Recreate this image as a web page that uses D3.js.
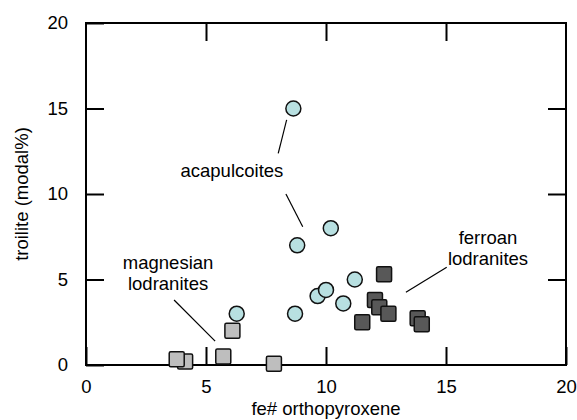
<!DOCTYPE html>
<html>
<head>
<meta charset="utf-8">
<script src="https://cdn.jsdelivr.net/npm/d3@7"></script>
<style>
  body { margin: 0; background: #fff; }
  svg text { font-family: "Liberation Sans", Arial, Helvetica, sans-serif; fill: #000; }
</style>
</head>
<body>
<div id="chart"></div>
<script>
// acapulcoites (circles)
const acapulcoiteFe = [8.64, 8.80, 10.2, 6.28, 8.71, 9.65, 10.0, 10.72, 11.2];
const acapulcoiteTroilite = [15.0, 7.0, 8.0, 3.0, 3.0, 4.03, 4.39, 3.6, 5.0];

// magnesian lodranites (light squares)
const magnesianFe = [6.1, 5.72, 4.13, 3.78, 7.83];
const magnesianTroilite = [2.0, 0.49, 0.2, 0.33, 0.08];

// ferroan lodranites (dark squares)
const ferroanFe = [12.42, 12.04, 12.22, 12.6, 11.51, 13.82, 13.99];
const ferroanTroilite = [5.3, 3.8, 3.37, 3.0, 2.5, 2.73, 2.38];

const xTicks = [0, 5, 10, 15, 20];
const yTicks = [0, 5, 10, 15, 20];

// group labels with leader lines, in data units
const labels = [
  { lines: ['acapulcoites'], x: 6.08, y: 11.35,
    leaders: [[[8.36, 14.33], [8.01, 12.38]], [[8.33, 10.0], [9.03, 8.09]]] },
  { lines: ['magnesian', 'lodranites'], x: 3.42, y: 5.4,
    leaders: [[[3.67, 3.8], [5.38, 1.4]]] },
  { lines: ['ferroan', 'lodranites'], x: 16.75, y: 6.85,
    leaders: [[[15.03, 5.71], [13.33, 4.25]]] }
];

const width = 577, height = 420;
const margin = { top: 23, right: 11, bottom: 55, left: 86 };
const w = width - margin.left - margin.right,
  h = height - margin.top - margin.bottom;
const fs = 18.5;

const svg = d3.select('#chart').append('svg')
  .attr('width', width)
  .attr('height', height);

const g = svg.append('g')
  .attr('transform', 'translate(' + margin.left + ',' + margin.top + ')');

const x = d3.scaleLinear().domain([0, 20]).range([0, w]);
const y = d3.scaleLinear().domain([0, 20]).range([h, 0]);

const tickLen = 18;

// inward ticks on all four sides
g.append('g').attr('transform', 'translate(0,' + h + ')')
  .call(d3.axisBottom(x).tickValues(xTicks).tickSize(-tickLen).tickPadding(15).tickSizeOuter(0));
g.append('g')
  .call(d3.axisLeft(y).tickValues(yTicks).tickSize(-tickLen).tickPadding(18).tickSizeOuter(0));
g.append('g')
  .call(d3.axisTop(x).tickValues(xTicks.slice(1, -1)).tickSize(-tickLen).tickFormat('').tickSizeOuter(0));
g.append('g').attr('transform', 'translate(' + w + ',0)')
  .call(d3.axisRight(y).tickValues(yTicks.slice(1, -1)).tickSize(-tickLen).tickFormat('').tickSizeOuter(0));

g.selectAll('.domain').remove();
g.selectAll('.tick line').attr('stroke', '#000').attr('stroke-width', 2);
g.selectAll('.tick text')
  .attr('font-size', fs)
  .attr('font-family', '"Liberation Sans", Arial, sans-serif')
  .attr('fill', '#000');

g.append('rect')
  .attr('width', w).attr('height', h)
  .attr('fill', 'none').attr('stroke', '#000').attr('stroke-width', 2);

// axis titles
g.append('text')
  .attr('x', w / 2).attr('y', h + 50)
  .attr('text-anchor', 'middle')
  .attr('font-size', fs)
  .text('fe# orthopyroxene');

g.append('text')
  .attr('transform', 'translate(' + (-58) + ',' + h / 2 + ') rotate(-90)')
  .attr('text-anchor', 'middle')
  .attr('font-size', fs)
  .text('troilite (modal%)');

// labels and leaders
labels.forEach(function(lab) {
  lab.leaders.forEach(function(seg) {
    g.append('line')
      .attr('x1', x(seg[0][0])).attr('y1', y(seg[0][1]))
      .attr('x2', x(seg[1][0])).attr('y2', y(seg[1][1]))
      .attr('stroke', '#000').attr('stroke-width', 1.2);
  });
  const t = g.append('text')
    .attr('text-anchor', 'middle')
    .attr('font-size', fs)
    .attr('y', y(lab.y) + 6.5 - (lab.lines.length - 1) * 10.5);
  lab.lines.forEach(function(s, i) {
    t.append('tspan').attr('x', x(lab.x)).attr('dy', i ? 21.5 : 0).text(s);
  });
});

const sq = 15;

// magnesian lodranites, drawn so the leftmost sits on top
const mag = d3.zip(magnesianFe, magnesianTroilite);
g.selectAll('.mag').data(mag).enter().append('rect')
  .attr('x', d => x(d[0]) - sq / 2).attr('y', d => y(d[1]) - sq / 2)
  .attr('width', sq).attr('height', sq).attr('rx', 1.5)
  .attr('fill', '#bebebe').attr('stroke', '#111').attr('stroke-width', 1.5);

const fer = d3.zip(ferroanFe, ferroanTroilite);
g.selectAll('.fer').data(fer).enter().append('rect')
  .attr('x', d => x(d[0]) - sq / 2).attr('y', d => y(d[1]) - sq / 2)
  .attr('width', sq).attr('height', sq).attr('rx', 1.5)
  .attr('fill', '#585858').attr('stroke', '#111').attr('stroke-width', 1.5);

const aca = d3.zip(acapulcoiteFe, acapulcoiteTroilite);
g.selectAll('.aca').data(aca).enter().append('circle')
  .attr('cx', d => x(d[0])).attr('cy', d => y(d[1]))
  .attr('r', 7.5)
  .attr('fill', '#b8e0e1').attr('stroke', '#111').attr('stroke-width', 1.5);
</script>
</body>
</html>
